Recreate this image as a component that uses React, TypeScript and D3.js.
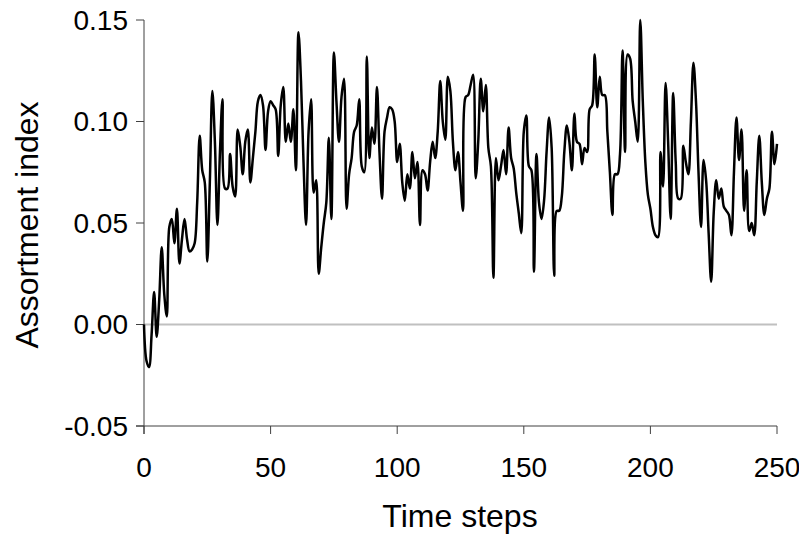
import React from "react";
import * as d3 from "d3";

const timeSteps: number[] = d3.range(0, 251);
const assortment: number[] = [
  0.000, -0.018, -0.021, -0.005, 0.016, -0.006, 0.012, 0.038, 0.015, 0.004,
  0.048, 0.052, 0.040, 0.057, 0.030, 0.042, 0.052, 0.042, 0.036, 0.037,
  0.040, 0.060, 0.093, 0.076, 0.070, 0.031, 0.070, 0.115, 0.090, 0.049,
  0.085, 0.111, 0.067, 0.067, 0.084, 0.068, 0.063, 0.096, 0.088, 0.074,
  0.090, 0.096, 0.070, 0.082, 0.095, 0.110, 0.113, 0.108, 0.086, 0.105,
  0.110, 0.108, 0.106, 0.083, 0.108, 0.117, 0.090, 0.099, 0.090, 0.106,
  0.076, 0.144, 0.120, 0.080, 0.049, 0.095, 0.111, 0.065, 0.071, 0.025,
  0.038, 0.050, 0.060, 0.092, 0.052, 0.134, 0.110, 0.090, 0.112, 0.121,
  0.057, 0.074, 0.082, 0.095, 0.098, 0.111, 0.078, 0.075, 0.132, 0.082,
  0.097, 0.089, 0.117, 0.085, 0.062, 0.095, 0.102, 0.107, 0.106, 0.100,
  0.080, 0.089, 0.070, 0.061, 0.074, 0.067, 0.085, 0.072, 0.080, 0.049,
  0.076, 0.074, 0.066, 0.080, 0.090, 0.082, 0.095, 0.120, 0.100, 0.091,
  0.122, 0.115, 0.090, 0.076, 0.085, 0.070, 0.056, 0.112, 0.113, 0.118,
  0.123, 0.072, 0.090, 0.121, 0.105, 0.118, 0.087, 0.078, 0.023, 0.082,
  0.071, 0.078, 0.086, 0.074, 0.097, 0.082, 0.077, 0.065, 0.055, 0.045,
  0.095, 0.103, 0.078, 0.076, 0.026, 0.084, 0.060, 0.052, 0.061, 0.085,
  0.102, 0.087, 0.024, 0.056, 0.056, 0.063, 0.085, 0.098, 0.090, 0.076,
  0.104, 0.090, 0.089, 0.079, 0.087, 0.085, 0.106, 0.108, 0.133, 0.107,
  0.122, 0.113, 0.113, 0.095, 0.075, 0.054, 0.074, 0.074, 0.084, 0.135,
  0.085, 0.133, 0.131, 0.110, 0.100, 0.090, 0.150, 0.110, 0.080, 0.064,
  0.057, 0.048, 0.044, 0.043, 0.085, 0.068, 0.119, 0.090, 0.052, 0.114,
  0.080, 0.062, 0.062, 0.088, 0.080, 0.074, 0.100, 0.129, 0.110, 0.075,
  0.048, 0.081, 0.071, 0.045, 0.021, 0.055, 0.071, 0.062, 0.067, 0.058,
  0.056, 0.054, 0.044, 0.075, 0.102, 0.081, 0.096, 0.056, 0.076, 0.046,
  0.050, 0.044, 0.070, 0.093, 0.070, 0.054, 0.062, 0.067, 0.095, 0.079,
  0.089,
];
const xTicks: number[] = [0, 50, 100, 150, 200, 250];
const yTicks: number[] = [-0.05, 0, 0.05, 0.1, 0.15];
const xTitle = "Time steps";
const yTitle = "Assortment index";

export default function App() {
  const W = 799, H = 536;
  const x = d3.scaleLinear().domain([0, 250]).range([144, 777]);
  const y = d3.scaleLinear().domain([-0.05, 0.15]).range([426, 20]);
  const pts = timeSteps.map((t, i) => [t, assortment[i]] as [number, number]);
  const line = d3
    .line<[number, number]>()
    .x((d) => x(d[0]))
    .y((d) => y(d[1]))
    .curve(d3.curveCatmullRom.alpha(0.5));
  const font = "'Liberation Sans', Arial, sans-serif";
  const axisColor = "#404040";
  return (
    <svg width={W} height={H} style={{ position: "absolute", left: 0, top: 0, background: "#fff" }} fontFamily={font}>
      <rect width={W} height={H} fill="#fff" />
      <line x1={x(0)} x2={x(250)} y1={y(0)} y2={y(0)} stroke="#c0c0c0" strokeWidth={2} />
      <line x1={x(0)} x2={x(0)} y1={y(0.15)} y2={y(-0.05) + 8} stroke={axisColor} strokeWidth={1} />
      <line x1={x(0) - 8} x2={x(250)} y1={y(-0.05)} y2={y(-0.05)} stroke={axisColor} strokeWidth={1} />
      {yTicks.map((t) => (
        <g key={"y" + t}>
          <line x1={x(0) - 8} x2={x(0)} y1={y(t)} y2={y(t)} stroke={axisColor} strokeWidth={1} />
          <text x={128} y={y(t)} dy="0.35em" textAnchor="end" fontSize={28} fill="#000">
            {d3.format(".2f")(t).replace("−", "-")}
          </text>
        </g>
      ))}
      {xTicks.map((t) => (
        <g key={"x" + t}>
          <line x1={x(t)} x2={x(t)} y1={y(-0.05)} y2={y(-0.05) + 8} stroke={axisColor} strokeWidth={1} />
          <text x={x(t)} y={477} textAnchor="middle" fontSize={28} fill="#000">
            {t}
          </text>
        </g>
      ))}
      <path d={line(pts) || ""} fill="none" stroke="#000" strokeWidth={2.5} strokeLinejoin="round" />
      <text x={460} y={527} textAnchor="middle" fontSize={32} fill="#000">
        {xTitle}
      </text>
      <text transform={`translate(38,225) rotate(-90)`} textAnchor="middle" fontSize={32} fill="#000">
        {yTitle}
      </text>
    </svg>
  );
}
